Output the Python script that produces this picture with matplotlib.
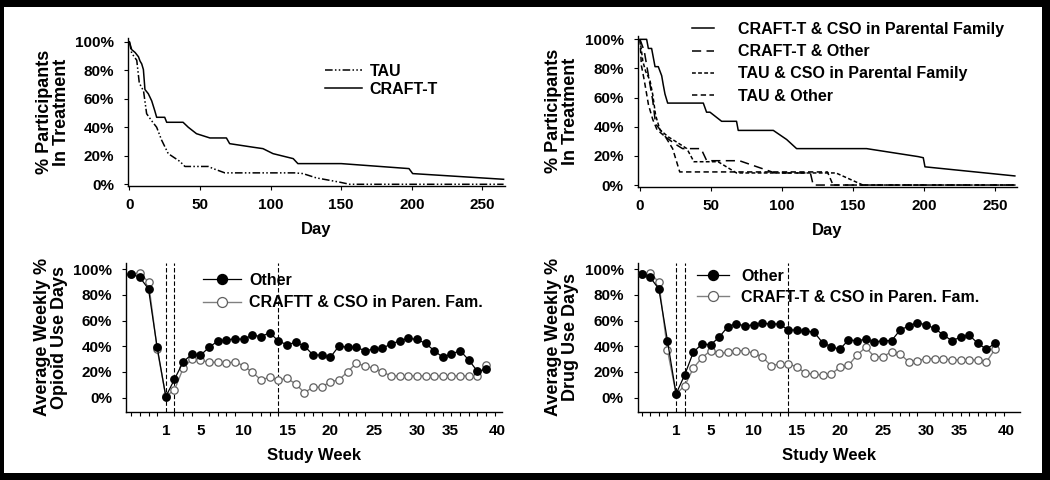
import matplotlib
matplotlib.use("Agg")
import matplotlib.pyplot as plt
from matplotlib.patches import Rectangle
import numpy as np

plt.rcParams['font.family'] = ['Liberation Sans', 'DejaVu Sans']
plt.rcParams['font.weight'] = 'bold'
plt.rcParams['axes.labelweight'] = 'bold'

# --- top left: retention by condition ---
craft_days = [0, 1.6, 4, 6.4, 7.5, 8.7, 9.9, 11, 13.4, 15.8, 18, 19.3, 25, 26.4, 38, 41.7, 47.5,
              57, 68.7, 71, 87.6, 94.6, 101.7, 116, 119.3, 150, 198, 200.6, 265]
craft_pct = [100, 94.5, 92.5, 89.5, 86.5, 84.5, 80.5, 66.5, 63.5, 58.5, 51.5, 47, 47, 43.5, 43.5,
             40, 35.5, 32.5, 32.5, 28.5, 26, 25, 21.5, 18, 14.5, 14.5, 11, 7.5, 3.5]
tau_days = [0, 1.6, 5.2, 7, 10, 12.2, 15.8, 19.3, 22.8, 27.5, 35.8, 39.3, 55.8, 59.3, 67.6,
            117, 122.9, 132.3, 148.8, 156, 265]
tau_pct = [100, 92, 87, 71, 65.5, 49.5, 44.5, 40, 31, 21.5, 16, 12.5, 12.5, 11, 8, 8, 7.5,
           4.5, 1.5, 0, 0]

# --- top right: retention by condition & CSO ---
cso_craft_days = [0, 4.7, 5.9, 8.2, 9.4, 10.6, 12.9, 15.3, 16.4, 17.6, 19.5, 38, 44.6, 46.9, 49.3,
                  57.5, 68, 69.2, 93.9, 103.3, 110.3, 159.6, 196, 199.5, 200.7, 264]
cso_craft_pct = [100, 100, 93.75, 93.75, 87.5, 81.25, 81.25, 75, 68.75, 62.5, 56.25, 56.25, 56.25,
                 50, 50, 43.75, 43.75, 37.5, 37.5, 31.25, 25, 25, 19.5, 18.75, 12.5, 6.25]
craft_other_days = [0, 3, 6, 9, 11, 15, 18, 25, 30, 43, 47, 70, 95, 120, 122, 265]
craft_other_pct = [100, 92, 75, 58, 42, 37, 33, 28, 25, 25, 16.7, 16.7, 8.3, 8.3, 0, 0]
tau_cso_days = [0, 2, 4, 7, 9, 11, 14, 20, 25, 33, 38, 55, 68, 120, 138, 157, 265]
tau_cso_pct = [100, 85, 78, 72, 62, 48, 38, 33, 30, 25, 16, 16, 8.3, 8.3, 8.3, 0, 0]
tau_other_days = [0, 1, 3, 6, 9, 12, 18, 23, 28, 132, 136, 265]
tau_other_pct = [100, 82, 72, 55, 45, 38, 33, 25, 9, 9, 0, 0]

# --- bottom: weekly use (4 baseline points, then study weeks 1..38) ---
weeks = np.arange(-3, 39)
opioid_other = [96.3, 93.7, 84.6, 39.2, 0.8, 14.3, 27.8, 33.8, 33, 39.2, 44.1, 44.9, 45.9, 45.4,
                48.8, 47.5, 50.6, 44.1, 41.2, 43.1, 40.3, 33.3, 33.2, 31.4, 40.2, 39.2, 39.2,
                36.6, 37.7, 38.4, 41.8, 44.1, 46.2, 45.4, 42.3, 36.6, 31.4, 34, 36.6, 29.3, 20.5, 22.1]
opioid_cso = [96, 97.3, 89.8, 37.9, 1, 6, 22.9, 30.1, 29.3, 27.5, 27.5, 26.8, 28, 24.7, 19.8,
              13.8, 15.9, 13.8, 15.1, 10.7, 3.9, 8.1, 8.1, 12.5, 13.8, 20.2, 26.8, 24.7, 22.9,
              20.2, 16.9, 16.9, 16.9, 16.9, 16.9, 16.9, 16.9, 16.9, 16.9, 16.9, 16.9, 25.4]
drug_other = [96, 93.7, 84.6, 44.4, 2.9, 17.7, 35.3, 41.8, 41.2, 47, 55.3, 57.6, 55.8, 56.8, 57.9,
              57.4, 57.4, 52.7, 52.7, 51.9, 51.1, 42.8, 39.7, 37.7, 44.9, 44.4, 45.4, 43.3, 44.4,
              44.4, 52.7, 55.8, 58.4, 56.6, 54, 48.8, 44.4, 47, 48.8, 42.3, 37.7, 42.3]
drug_cso = [96, 97.3, 89.8, 37.1, 3, 9.1, 22.9, 31.1, 36.6, 34.5, 35.3, 36.6, 36.6, 34.5, 31.9,
            24.9, 26.2, 26.2, 24.1, 19, 18.4, 17.4, 18.4, 23.6, 25.2, 33.2, 39.2, 31.9, 31.9,
            35.8, 34, 27.8, 28.8, 30.4, 30.4, 30.4, 29.3, 29.3, 29.3, 29.3, 27.8, 37.7]
phase_lines = [1, 2, 14]
week_tick_pos = [1, 5, 10, 15, 20, 25, 30, 33.8, 39.3]
week_tick_labels = ['1', '5', '10', '15', '20', '25', '30', '35', '40']
pct_ticks = [0, 20, 40, 60, 80, 100]
pct_labels = ['0%', '20%', '40%', '60%', '80%', '100%']

W, H = 1050, 480
fig = plt.figure(figsize=(10.5, 4.8), dpi=100, facecolor='black')
fig.add_artist(Rectangle((4 / W, 7 / H), (1042 - 4) / W, (473 - 7) / H,
                         transform=fig.transFigure, facecolor='white', edgecolor='none', zorder=-5))


def px_axes(x0, x1, ytop, ybot):
    return fig.add_axes([x0 / W, 1 - ybot / H, (x1 - x0) / W, (ybot - ytop) / H])


def style(ax):
    for s in ['top', 'right']:
        ax.spines[s].set_visible(False)
    for s in ['left', 'bottom']:
        ax.spines[s].set_linewidth(1.0)
    ax.tick_params(direction='out', length=3, width=0.8, labelsize=11, pad=3)
    ax.tick_params(axis='y', pad=7)
    ax.set_yticks(pct_ticks)
    ax.set_yticklabels(pct_labels)
    for lab in ax.get_xticklabels() + ax.get_yticklabels():
        lab.set_fontweight('bold')


# top left
ax1 = px_axes(128, 505, 38.2, 185.7)
ax1.plot(tau_days, tau_pct, color='black', lw=1.1, dashes=(5, 1.5, 1, 1.5, 1, 1.5), label='TAU')
ax1.plot(craft_days, craft_pct, color='black', lw=1.1, label='CRAFT-T')
ax1.set_xlim(-1, 266)
ax1.set_ylim(-1, 102.5)
ax1.set_xticks([0, 50, 100, 150, 200, 250])
style(ax1)
ax1.tick_params(axis='x', pad=6)
ax1.set_xlabel('Day', fontsize=12, labelpad=7)
ax1.set_ylabel('% Participants\nIn Treatment', fontsize=13, labelpad=4, linespacing=1.0)
ax1.legend(loc='upper left', bbox_to_anchor=((325 - 128) / 377, 1 - (63.5 - 38.2) / 147.5),
           frameon=False, fontsize=11.5, handlelength=2.3, handletextpad=0.5,
           labelspacing=0.22, borderpad=0, borderaxespad=0)

# top right
ax2 = px_axes(637.7, 1016.7, 35.7, 186.5)
ax2.plot(cso_craft_days, cso_craft_pct, color='black', lw=1.1, label='CRAFT-T & CSO in Parental Family')
ax2.plot(craft_other_days, craft_other_pct, color='black', lw=1.1, dashes=(6, 3.5),
         label='CRAFT-T & Other')
ax2.plot(tau_cso_days, tau_cso_pct, color='black', lw=1.1, dashes=(2.5, 1.5),
         label='TAU & CSO in Parental Family')
ax2.plot(tau_other_days, tau_other_pct, color='black', lw=1.1, dashes=(3.5, 2.2), label='TAU & Other')
ax2.set_xlim(-1.6, 265.3)
ax2.set_ylim(-1, 102.5)
ax2.set_xticks([0, 50, 100, 150, 200, 250])
style(ax2)
ax2.tick_params(axis='x', pad=6)
ax2.set_xlabel('Day', fontsize=12, labelpad=7)
ax2.set_ylabel('% Participants\nIn Treatment', fontsize=13, labelpad=4, linespacing=1.0)
ax2.legend(loc='upper left', bbox_to_anchor=((691.7 - 637.7) / 379, 1 - (22 - 35.7) / 150.8),
           frameon=False, fontsize=11.5, handlelength=1.4, handletextpad=1.5,
           labelspacing=0.45, borderpad=0, borderaxespad=0)


def weekly(ax, other, cso, cso_label, ylabel, xlim):
    ax.plot(weeks, cso, color='#808080', lw=1.0, marker='o', ms=5.3, mfc='white', mec='#606060',
            mew=0.9, label=cso_label, zorder=3)
    ax.plot(weeks, other, color='black', lw=0.9, marker='o', ms=5.3, mfc='black', mec='black',
            label='Other', zorder=4)
    for w in phase_lines:
        ax.axvline(w, color='black', lw=0.8, dashes=(4, 2), zorder=2)
    ax.set_xlim(*xlim)
    ax.set_ylim(-11, 105)
    style(ax)
    ax.set_xticks(week_tick_pos)
    ax.set_xticklabels(week_tick_labels, fontweight='bold')
    ax.set_xticks(np.arange(-3, 40), minor=True)
    ax.tick_params(axis='x', which='major', length=0, pad=9)
    ax.tick_params(axis='x', which='minor', length=3, width=0.8)
    ax.set_xlabel('Study Week', fontsize=12, labelpad=7)
    ax.set_ylabel(ylabel, fontsize=13, labelpad=4, linespacing=1.0)
    h, l = ax.get_legend_handles_labels()
    return h[::-1], l[::-1]


ax3 = px_axes(126, 501.7, 262.8, 411.8)
h, l = weekly(ax3, opioid_other, opioid_cso, 'CRAFTT & CSO in Paren. Fam.',
              'Average Weekly %\nOpioid Use Days', (-3.6, 39.8))
ax3.legend(h, l, loc='upper left', bbox_to_anchor=((203 - 126) / 375.7, 1 - (273 - 262.8) / 149),
           frameon=False, fontsize=11.5, handlelength=2.4, handletextpad=0.5, markerscale=1.35,
           labelspacing=0.45, borderpad=0, borderaxespad=0)

ax4 = px_axes(637.7, 1020, 262.8, 411.8)
h, l = weekly(ax4, drug_other, drug_cso, 'CRAFT-T & CSO in Paren. Fam.',
              'Average Weekly %\nDrug Use Days', (-3.45, 40.9))
ax4.legend(h, l, loc='upper left', bbox_to_anchor=((696.7 - 637.7) / 382.3, 1 - (269 - 262.8) / 149),
           frameon=False, fontsize=11.5, handlelength=2.0, handletextpad=0.8, markerscale=1.35,
           labelspacing=0.38, borderpad=0, borderaxespad=0)

fig.savefig('out.png', dpi=100, facecolor=fig.get_facecolor())
